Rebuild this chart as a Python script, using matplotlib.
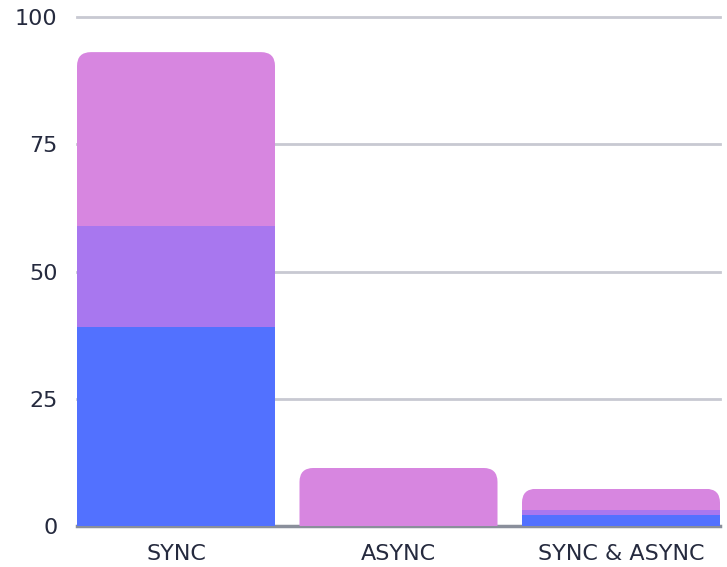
import matplotlib
matplotlib.use("Agg")
import matplotlib.pyplot as plt
from matplotlib.path import Path
from matplotlib.patches import PathPatch

categories = ["SYNC", "ASYNC", "SYNC & ASYNC"]
blue_vals = [39.1, 0.0, 2.2]
purple_vals = [19.8, 0.0, 0.9]
pink_vals = [34.2, 11.4, 4.2]
y_ticks = [0, 25, 50, 75, 100]

colors = ["#5271ff", "#a877ef", "#d786e0"]
text_color = "#252a3e"

W, H = 727, 567
fig = plt.figure(figsize=(W / 100, H / 100), dpi=100)
ax_l, ax_r, ax_b, ax_t = 77, 720, 41, 550
ax = fig.add_axes([ax_l / W, ax_b / H, (ax_r - ax_l) / W, (ax_t - ax_b) / H])

xs = list(range(len(categories)))
bw = 0.89
ax.set_xlim(-bw / 2, len(categories) - 1 + bw / 2)
ax.set_ylim(0, 100)

bottoms = [0.0] * len(categories)
series = [blue_vals, purple_vals, pink_vals]
containers = []
for vals, c in zip(series, colors):
    bars = ax.bar(xs, vals, width=bw, bottom=bottoms, color=c, linewidth=0, zorder=2)
    containers.append(bars)
    bottoms = [b + v for b, v in zip(bottoms, vals)]

# rounded top corners via clip path (radius in pixels)
r_px = 14
px_per_x = (ax_r - ax_l) / (ax.get_xlim()[1] - ax.get_xlim()[0])
px_per_y = (ax_t - ax_b) / 100.0
rx, ry = r_px / px_per_x, r_px / px_per_y
for i, x in enumerate(xs):
    x0, x1, y0, y1 = x - bw / 2, x + bw / 2, 0, bottoms[i]
    verts = [(x0, y0), (x0, y1 - ry), (x0, y1), (x0 + rx, y1),
             (x1 - rx, y1), (x1, y1), (x1, y1 - ry), (x1, y0), (x0, y0)]
    codes = [Path.MOVETO, Path.LINETO, Path.CURVE3, Path.CURVE3,
             Path.LINETO, Path.CURVE3, Path.CURVE3, Path.LINETO, Path.CLOSEPOLY]
    clip = PathPatch(Path(verts, codes), transform=ax.transData, visible=False)
    ax.add_patch(clip)
    for bars in containers:
        bars[i].set_clip_path(clip)

ax.set_yticks(y_ticks)
ax.set_xticks(xs)
ax.set_xticklabels(categories)
ax.tick_params(length=0, labelsize=16, colors=text_color)
ax.tick_params(axis="y", pad=14)
ax.tick_params(axis="x", pad=13)
for t in y_ticks[1:]:
    ax.axhline(t, color="#c8c9d2", linewidth=2, zorder=1, clip_on=False)
ax.axhline(0, color="#8a8f9b", linewidth=2.5, zorder=1, clip_on=False)
for s in ax.spines.values():
    s.set_visible(False)

fig.savefig("out.png", dpi=100)
